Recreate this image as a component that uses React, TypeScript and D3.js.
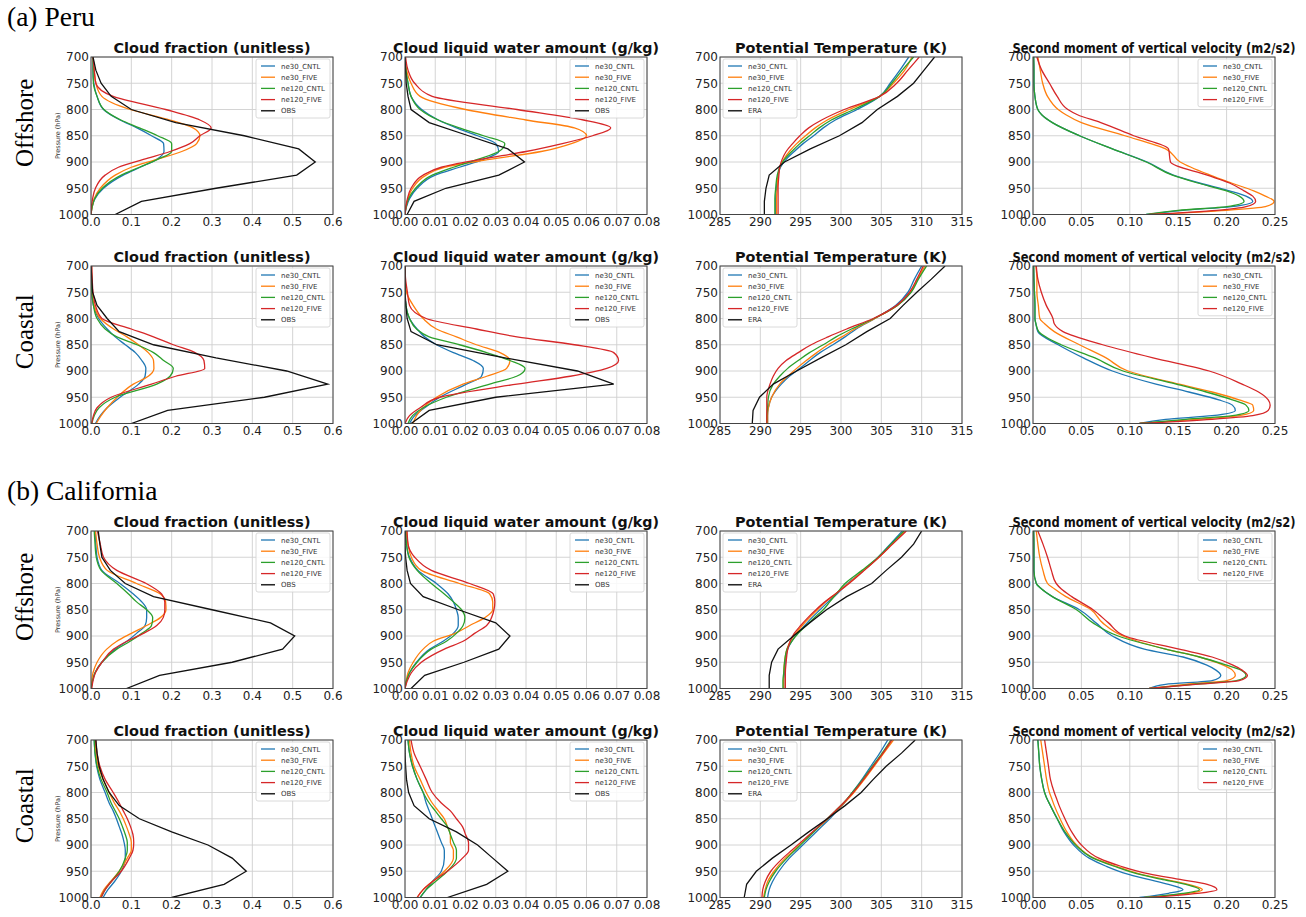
import React from "react";
import * as d3 from "d3";

// ---------- pressure levels (hPa) ----------
const LEV = [700, 725, 750, 775, 800, 820, 835, 850, 865, 880, 895, 910, 925, 950, 970, 985, 1000];
const LEV_W = [700, 725, 750, 775, 800, 810, 825, 850, 875, 900, 925, 940, 955, 965, 975, 985, 992, 1000];
const OBS_LEV = [700, 725, 750, 775, 800, 825, 850, 875, 900, 925, 950, 975, 1000];

const SERIES_NAMES = ["ne30_CNTL", "ne30_FIVE", "ne120_CNTL", "ne120_FIVE"];
const SERIES_COLORS = ["#1f77b4", "#ff7f0e", "#2ca02c", "#d62728"];

// ---------- (a) Peru, Offshore ----------  order: ne30_CNTL, ne30_FIVE, ne120_CNTL, ne120_FIVE
const PERU_OFF_CF = [
  [0.005, 0.005, 0.007, 0.015, 0.031, 0.072, 0.114, 0.15, 0.18, 0.181, 0.163, 0.122, 0.08, 0.031, 0.01, 0.003, 0],
  [0.005, 0.008, 0.012, 0.027, 0.097, 0.196, 0.253, 0.27, 0.262, 0.225, 0.163, 0.1, 0.06, 0.023, 0.008, 0.003, 0],
  [0.005, 0.005, 0.006, 0.015, 0.032, 0.074, 0.12, 0.165, 0.2, 0.2, 0.165, 0.12, 0.075, 0.028, 0.009, 0.003, 0],
  [0.005, 0.008, 0.012, 0.055, 0.185, 0.27, 0.298, 0.27, 0.245, 0.196, 0.13, 0.068, 0.035, 0.011, 0.004, 0.001, 0],
];
const PERU_OFF_CF_OBS = [0.005, 0.012, 0.025, 0.05, 0.1, 0.21, 0.38, 0.515, 0.556, 0.51, 0.31, 0.125, 0.06];

const PERU_OFF_CLW = [
  [0, 0.0003, 0.001, 0.002, 0.0055, 0.011, 0.017, 0.024, 0.03, 0.031, 0.026, 0.018, 0.01, 0.004, 0.0015, 0.0005, 0],
  [0, 0.0005, 0.002, 0.005, 0.02, 0.04, 0.056, 0.06, 0.055, 0.045, 0.028, 0.013, 0.007, 0.0025, 0.001, 0.0003, 0],
  [0, 0.0003, 0.001, 0.002, 0.005, 0.011, 0.018, 0.026, 0.033, 0.031, 0.024, 0.016, 0.009, 0.0035, 0.0012, 0.0004, 0],
  [0.0002, 0.001, 0.0032, 0.009, 0.037, 0.059, 0.068, 0.062, 0.052, 0.04, 0.025, 0.012, 0.006, 0.002, 0.0008, 0.0003, 0],
];
const PERU_OFF_CLW_OBS = [0, 0.0002, 0.0004, 0.001, 0.002, 0.008, 0.021, 0.034, 0.0395, 0.031, 0.0135, 0.003, 0.0007];

const PERU_OFF_TH = [
  [308.4, 307.3, 306.1, 304.8, 302.0, 299.3, 297.8, 296.6, 295.3, 294.2, 293.2, 292.5, 292.2, 292.0, 291.9, 291.9, 291.9],
  [308.8, 307.9, 306.5, 304.8, 301.0, 298.3, 296.8, 295.6, 294.5, 293.6, 292.9, 292.4, 292.2, 292.1, 292.0, 292.0, 292.0],
  [309.0, 307.6, 306.3, 304.8, 301.6, 298.8, 297.3, 296.1, 294.9, 293.9, 293.0, 292.4, 292.1, 291.9, 291.8, 291.8, 291.8],
  [309.7, 308.3, 306.9, 304.8, 300.4, 297.6, 296.0, 294.9, 294.0, 293.2, 292.7, 292.4, 292.3, 292.2, 292.2, 292.2, 292.2],
];
const PERU_OFF_TH_ERA = [311.6, 310.3, 309.0, 307.0, 304.5, 302.6, 299.8, 296.2, 293.0, 291.1, 290.7, 290.5, 290.5];

const PERU_OFF_W2 = [
  [0.0007, 0.001, 0.001, 0.002, 0.005, 0.009, 0.02, 0.048, 0.082, 0.118, 0.145, 0.172, 0.203, 0.22, 0.227, 0.205, 0.155, 0.117],
  [0.005, 0.0075, 0.01, 0.015, 0.026, 0.034, 0.05, 0.095, 0.137, 0.152, 0.183, 0.205, 0.228, 0.24, 0.249, 0.24, 0.2, 0.12],
  [0.0007, 0.001, 0.001, 0.002, 0.005, 0.009, 0.02, 0.048, 0.082, 0.117, 0.144, 0.17, 0.2, 0.213, 0.218, 0.2, 0.15, 0.117],
  [0.004, 0.009, 0.017, 0.025, 0.036, 0.046, 0.07, 0.104, 0.14, 0.142, 0.18, 0.203, 0.218, 0.227, 0.23, 0.22, 0.19, 0.12],
];

// ---------- (a) Peru, Coastal ----------
const PERU_CST_CF = [
  [0.001, 0.001, 0.002, 0.006, 0.019, 0.04, 0.06, 0.085, 0.11, 0.126, 0.136, 0.134, 0.118, 0.072, 0.04, 0.023, 0.011],
  [0.001, 0.002, 0.003, 0.008, 0.023, 0.056, 0.089, 0.118, 0.142, 0.155, 0.156, 0.142, 0.105, 0.065, 0.04, 0.025, 0.013],
  [0.001, 0.001, 0.002, 0.006, 0.015, 0.035, 0.064, 0.114, 0.155, 0.18, 0.204, 0.196, 0.163, 0.06, 0.02, 0.008, 0.002],
  [0.002, 0.003, 0.005, 0.011, 0.027, 0.1, 0.155, 0.204, 0.258, 0.28, 0.282, 0.21, 0.15, 0.05, 0.015, 0.006, 0.002],
];
const PERU_CST_CF_OBS = [0, 0.002, 0.004, 0.015, 0.04, 0.07, 0.155, 0.31, 0.485, 0.587, 0.43, 0.19, 0.1];

const PERU_CST_CLW = [
  [0, 0, 0, 0.0003, 0.0015, 0.004, 0.0065, 0.0104, 0.016, 0.0225, 0.0259, 0.0253, 0.0203, 0.0115, 0.0065, 0.0032, 0.0015],
  [0, 0, 0.0005, 0.0027, 0.006, 0.0104, 0.017, 0.0236, 0.0314, 0.0347, 0.0336, 0.027, 0.0192, 0.0104, 0.006, 0.0038, 0.0027],
  [0, 0, 0, 0.0003, 0.0015, 0.0038, 0.008, 0.018, 0.027, 0.0347, 0.0397, 0.0369, 0.028, 0.0137, 0.006, 0.0025, 0.001],
  [0, 0.0002, 0.0008, 0.0015, 0.007, 0.0236, 0.037, 0.056, 0.069, 0.0706, 0.0667, 0.0546, 0.037, 0.0115, 0.005, 0.0015, 0],
];
const PERU_CST_CLW_OBS = [0, 0, 0, 0.0003, 0.0007, 0.002, 0.0105, 0.033, 0.057, 0.069, 0.03, 0.008, 0.002];

const PERU_CST_TH = [
  [310.0, 309.1, 308.3, 306.8, 304.2, 301.9, 300.5, 299.0, 297.4, 296.1, 294.9, 293.6, 292.6, 291.4, 291.0, 290.9, 290.9],
  [310.4, 309.5, 308.6, 307.0, 304.2, 301.7, 300.1, 298.4, 297.0, 295.7, 294.5, 293.4, 292.4, 291.4, 291.0, 290.9, 290.9],
  [310.6, 309.6, 308.7, 307.0, 304.1, 301.3, 299.4, 297.8, 296.1, 294.7, 293.4, 292.4, 291.6, 291.0, 290.9, 290.8, 290.8],
  [310.2, 309.4, 308.5, 306.9, 304.0, 300.7, 298.4, 296.3, 294.7, 293.2, 292.2, 291.6, 291.2, 290.8, 290.8, 290.8, 290.8],
];
const PERU_CST_TH_ERA = [312.9, 311.2, 309.4, 307.7, 306.1, 303.2, 300.6, 297.5, 294.5, 291.6, 289.9, 289.1, 289.0];

const PERU_CST_W2 = [
  [0.0007, 0.001, 0.0015, 0.002, 0.002, 0.003, 0.005, 0.026, 0.052, 0.082, 0.127, 0.161, 0.192, 0.206, 0.209, 0.185, 0.137, 0.11],
  [0.003, 0.004, 0.004, 0.0055, 0.007, 0.012, 0.022, 0.048, 0.0755, 0.098, 0.151, 0.185, 0.213, 0.227, 0.228, 0.213, 0.168, 0.11],
  [0.0007, 0.001, 0.0015, 0.002, 0.002, 0.003, 0.006, 0.029, 0.064, 0.093, 0.148, 0.179, 0.206, 0.22, 0.223, 0.206, 0.158, 0.11],
  [0.0034, 0.005, 0.0086, 0.0137, 0.0206, 0.022, 0.031, 0.072, 0.124, 0.182, 0.216, 0.233, 0.243, 0.245, 0.243, 0.227, 0.185, 0.11],
];

// ---------- (b) California, Offshore ----------
const CAL_OFF_CF = [
  [0.011, 0.012, 0.015, 0.027, 0.072, 0.105, 0.126, 0.138, 0.138, 0.134, 0.113, 0.089, 0.06, 0.027, 0.01, 0.004, 0],
  [0.011, 0.015, 0.021, 0.04, 0.113, 0.172, 0.185, 0.186, 0.172, 0.138, 0.1, 0.064, 0.039, 0.015, 0.005, 0.002, 0],
  [0.008, 0.01, 0.013, 0.025, 0.064, 0.093, 0.113, 0.138, 0.153, 0.15, 0.126, 0.097, 0.064, 0.027, 0.01, 0.004, 0],
  [0.016, 0.023, 0.031, 0.064, 0.137, 0.175, 0.183, 0.183, 0.179, 0.163, 0.13, 0.089, 0.056, 0.027, 0.011, 0.005, 0.002],
];
const CAL_OFF_CF_OBS = [0.018, 0.022, 0.027, 0.048, 0.085, 0.155, 0.3, 0.445, 0.505, 0.475, 0.35, 0.17, 0.088];

const CAL_OFF_CLW = [
  [0.0002, 0.0005, 0.0015, 0.0043, 0.0104, 0.0143, 0.016, 0.017, 0.0176, 0.0176, 0.016, 0.0126, 0.0082, 0.0038, 0.0015, 0.0005, 0],
  [0.0004, 0.001, 0.0021, 0.0054, 0.018, 0.028, 0.029, 0.029, 0.0264, 0.0214, 0.0165, 0.0093, 0.006, 0.0027, 0.001, 0.0004, 0],
  [0.0002, 0.0005, 0.0013, 0.004, 0.0087, 0.013, 0.016, 0.0187, 0.0198, 0.0192, 0.017, 0.0137, 0.0087, 0.004, 0.0015, 0.0005, 0],
  [0.0007, 0.001, 0.0032, 0.0087, 0.0214, 0.0292, 0.0297, 0.0294, 0.0286, 0.027, 0.023, 0.0192, 0.013, 0.0054, 0.0021, 0.0008, 0],
];
const CAL_OFF_CLW_OBS = [0, 0, 0.0002, 0.0007, 0.0018, 0.006, 0.0177, 0.03, 0.0347, 0.031, 0.0195, 0.0065, 0.002];

const CAL_OFF_TH = [
  [307.6, 306.1, 304.6, 302.8, 300.8, 299.5, 298.4, 297.4, 296.4, 295.5, 294.6, 293.9, 293.4, 293.1, 293.0, 292.9, 292.9],
  [307.9, 306.3, 304.7, 302.8, 300.9, 299.3, 298.1, 297.1, 296.1, 295.2, 294.4, 293.7, 293.3, 293.0, 292.9, 292.9, 292.9],
  [307.8, 306.2, 304.6, 302.6, 300.5, 299.4, 298.6, 297.8, 296.7, 295.7, 294.7, 293.9, 293.3, 293.0, 292.9, 292.8, 292.8],
  [308.1, 306.4, 304.7, 302.9, 301.0, 299.3, 298.0, 296.9, 295.9, 295.0, 294.2, 293.7, 293.4, 293.2, 293.1, 293.1, 293.1],
];
const CAL_OFF_TH_ERA = [310.0, 309.0, 307.5, 305.6, 303.8, 300.7, 298.2, 296.1, 294.1, 292.2, 291.4, 291.1, 291.1];

const CAL_OFF_W2 = [
  [0.0007, 0.001, 0.001, 0.001, 0.0034, 0.0086, 0.02, 0.048, 0.065, 0.082, 0.115, 0.155, 0.179, 0.189, 0.194, 0.185, 0.137, 0.12],
  [0.0034, 0.005, 0.007, 0.0103, 0.015, 0.022, 0.034, 0.06, 0.072, 0.093, 0.137, 0.172, 0.196, 0.206, 0.209, 0.2, 0.158, 0.12],
  [0.0007, 0.001, 0.001, 0.001, 0.0034, 0.0086, 0.02, 0.045, 0.062, 0.088, 0.137, 0.172, 0.199, 0.215, 0.22, 0.21, 0.165, 0.12],
  [0.005, 0.0103, 0.015, 0.019, 0.024, 0.029, 0.04, 0.062, 0.078, 0.095, 0.151, 0.185, 0.206, 0.216, 0.2215, 0.213, 0.168, 0.12],
];

// ---------- (b) California, Coastal ----------
const CAL_CST_CF = [
  [0.008, 0.01, 0.014, 0.022, 0.035, 0.045, 0.055, 0.063, 0.07, 0.077, 0.082, 0.085, 0.085, 0.075, 0.058, 0.042, 0.03],
  [0.01, 0.012, 0.018, 0.03, 0.045, 0.058, 0.07, 0.08, 0.088, 0.095, 0.1, 0.1, 0.09, 0.07, 0.048, 0.032, 0.022],
  [0.008, 0.01, 0.015, 0.025, 0.04, 0.05, 0.06, 0.07, 0.078, 0.085, 0.09, 0.09, 0.085, 0.07, 0.05, 0.035, 0.025],
  [0.012, 0.015, 0.022, 0.035, 0.055, 0.07, 0.08, 0.09, 0.098, 0.104, 0.106, 0.104, 0.095, 0.075, 0.05, 0.035, 0.025],
];
const CAL_CST_CF_OBS = [0.012, 0.015, 0.02, 0.03, 0.045, 0.07, 0.12, 0.2, 0.29, 0.35, 0.385, 0.33, 0.2];

const CAL_CST_CLW = [
  [0.001, 0.0015, 0.0025, 0.004, 0.006, 0.007, 0.008, 0.009, 0.01, 0.011, 0.012, 0.013, 0.013, 0.012, 0.009, 0.007, 0.005],
  [0.0015, 0.002, 0.003, 0.005, 0.007, 0.009, 0.011, 0.013, 0.014, 0.015, 0.015, 0.016, 0.016, 0.013, 0.009, 0.006, 0.004],
  [0.001, 0.0015, 0.0025, 0.004, 0.006, 0.008, 0.01, 0.012, 0.014, 0.015, 0.016, 0.017, 0.017, 0.014, 0.01, 0.007, 0.005],
  [0.002, 0.003, 0.005, 0.007, 0.009, 0.012, 0.015, 0.017, 0.019, 0.02, 0.021, 0.021, 0.019, 0.014, 0.009, 0.006, 0.004],
];
const CAL_CST_CLW_OBS = [0, 0, 0.0002, 0.0005, 0.0012, 0.003, 0.008, 0.017, 0.024, 0.029, 0.034, 0.027, 0.014];

const CAL_CST_TH = [
  [305.8, 304.8, 303.7, 302.6, 301.4, 300.4, 299.5, 298.6, 297.6, 296.6, 295.6, 294.6, 293.6, 292.3, 291.5, 291.1, 290.9],
  [306.5, 305.3, 304.1, 302.9, 301.6, 300.4, 299.4, 298.4, 297.3, 296.2, 295.2, 294.2, 293.1, 291.7, 290.9, 290.6, 290.4],
  [306.2, 305.1, 303.9, 302.7, 301.4, 300.3, 299.3, 298.3, 297.3, 296.3, 295.3, 294.3, 293.3, 291.9, 291.1, 290.7, 290.5],
  [306.3, 305.2, 304.0, 302.8, 301.5, 300.3, 299.3, 298.3, 297.2, 296.1, 295.0, 293.9, 292.8, 291.3, 290.6, 290.3, 290.2],
];
const CAL_CST_TH_ERA = [309.2, 307.5, 305.6, 304.0, 302.5, 300.5, 298.3, 296.0, 293.8, 291.5, 289.5, 288.3, 288.0];

const CAL_CST_W2 = [
  [0.005, 0.006, 0.007, 0.009, 0.012, 0.014, 0.018, 0.025, 0.032, 0.042, 0.058, 0.075, 0.097, 0.118, 0.14, 0.155, 0.14, 0.11],
  [0.008, 0.01, 0.012, 0.014, 0.017, 0.019, 0.022, 0.028, 0.035, 0.045, 0.063, 0.085, 0.11, 0.135, 0.16, 0.175, 0.16, 0.115],
  [0.005, 0.006, 0.007, 0.009, 0.012, 0.014, 0.018, 0.025, 0.033, 0.044, 0.062, 0.083, 0.108, 0.132, 0.158, 0.172, 0.155, 0.115],
  [0.012, 0.014, 0.016, 0.018, 0.022, 0.024, 0.027, 0.033, 0.04, 0.05, 0.068, 0.09, 0.12, 0.15, 0.18, 0.19, 0.17, 0.12],
];

// ---------- axis definitions ----------
const KINDS: Record<string, any> = {
  cf: { title: "Cloud fraction (unitless)", titleW: 197, domain: [0, 0.6], nt: 6, fmt: d3.format(".1f"), obsLabel: "OBS", legendLeft: false },
  clw: { title: "Cloud liquid water amount (g/kg)", titleW: 266, domain: [0, 0.08], nt: 8, fmt: d3.format(".2f"), obsLabel: "OBS", legendLeft: false },
  th: { title: "Potential Temperature (K)", titleW: 212, domain: [285, 315], nt: 6, fmt: d3.format("d"), obsLabel: "ERA", legendLeft: true },
  w2: { title: "Second moment of vertical velocity (m2/s2)", titleW: 283, domain: [0, 0.25], nt: 5, fmt: d3.format(".2f"), obsLabel: null, legendLeft: false },
};

const PANELS = [
  { row: 0, col: 0, kind: "cf", models: PERU_OFF_CF, obs: PERU_OFF_CF_OBS },
  { row: 0, col: 1, kind: "clw", models: PERU_OFF_CLW, obs: PERU_OFF_CLW_OBS },
  { row: 0, col: 2, kind: "th", models: PERU_OFF_TH, obs: PERU_OFF_TH_ERA },
  { row: 0, col: 3, kind: "w2", models: PERU_OFF_W2, obs: null },
  { row: 1, col: 0, kind: "cf", models: PERU_CST_CF, obs: PERU_CST_CF_OBS },
  { row: 1, col: 1, kind: "clw", models: PERU_CST_CLW, obs: PERU_CST_CLW_OBS },
  { row: 1, col: 2, kind: "th", models: PERU_CST_TH, obs: PERU_CST_TH_ERA },
  { row: 1, col: 3, kind: "w2", models: PERU_CST_W2, obs: null },
  { row: 2, col: 0, kind: "cf", models: CAL_OFF_CF, obs: CAL_OFF_CF_OBS },
  { row: 2, col: 1, kind: "clw", models: CAL_OFF_CLW, obs: CAL_OFF_CLW_OBS },
  { row: 2, col: 2, kind: "th", models: CAL_OFF_TH, obs: CAL_OFF_TH_ERA },
  { row: 2, col: 3, kind: "w2", models: CAL_OFF_W2, obs: null },
  { row: 3, col: 0, kind: "cf", models: CAL_CST_CF, obs: CAL_CST_CF_OBS },
  { row: 3, col: 1, kind: "clw", models: CAL_CST_CLW, obs: CAL_CST_CLW_OBS },
  { row: 3, col: 2, kind: "th", models: CAL_CST_TH, obs: CAL_CST_TH_ERA },
  { row: 3, col: 3, kind: "w2", models: CAL_CST_W2, obs: null },
];

const ROW_LABELS = ["Offshore", "Coastal", "Offshore", "Coastal"];
const SECTION_LABELS = [{ text: "(a) Peru", row: 0 }, { text: "(b) California", row: 2 }];

// ---------- layout ----------
const COL_X = [91, 405, 720, 1033];
const ROW_Y = [57, 266, 531, 740];
const PW = 242;
const PH = 157.5;
const SANS = "'DejaVu Sans', sans-serif";
const SERIF = "'Liberation Serif', 'Times New Roman', serif";

function Panel({ p, idx }: { p: any; idx: number }) {
  const k = KINDS[p.kind];
  const x0 = COL_X[p.col];
  const y0 = ROW_Y[p.row];
  const xs = d3.scaleLinear().domain(k.domain).range([x0, x0 + PW]);
  const ys = d3.scaleLinear().domain([700, 1000]).range([y0, y0 + PH]);
  const lev = p.kind === "w2" ? LEV_W : LEV;
  const modelLine = d3
    .line<number>()
    .x((d) => xs(d))
    .y((_d, i) => ys(lev[i]))
    .curve(d3.curveMonotoneY);
  const obsLine = d3
    .line<number>()
    .x((d) => xs(d))
    .y((_d, i) => ys(OBS_LEV[i]));
  const xt = xs.ticks(k.nt);
  const yt = ys.ticks(6);
  const clipId = `clip${idx}`;

  const entries = SERIES_NAMES.map((n, i) => ({ name: n, color: SERIES_COLORS[i] }));
  if (k.obsLabel) entries.push({ name: k.obsLabel, color: "#000" });
  const lw = 74;
  const lh = entries.length * 11.2 + 3;
  const lx = k.legendLeft ? x0 + 3 : x0 + PW - 3 - lw;
  const ly = y0 + 2;

  return (
    <g>
      <defs>
        <clipPath id={clipId}>
          <rect x={x0} y={y0} width={PW} height={PH} />
        </clipPath>
      </defs>
      <rect x={x0} y={y0} width={PW} height={PH} fill="#fff" />
      {xt.map((t) => (
        <line key={"gx" + t} x1={xs(t)} x2={xs(t)} y1={y0} y2={y0 + PH} stroke="#cfcfcf" strokeWidth={0.9} />
      ))}
      {yt.map((t) => (
        <line key={"gy" + t} x1={x0} x2={x0 + PW} y1={ys(t)} y2={ys(t)} stroke="#cfcfcf" strokeWidth={0.9} />
      ))}
      <g clipPath={`url(#${clipId})`}>
        {p.models.map((s: number[], i: number) => (
          <path key={"m" + i} d={modelLine(s) || ""} fill="none" stroke={SERIES_COLORS[i]} strokeWidth={1.3} />
        ))}
        {p.obs && <path d={obsLine(p.obs) || ""} fill="none" stroke="#111" strokeWidth={1.3} />}
      </g>
      <rect x={x0} y={y0} width={PW} height={PH} fill="none" stroke="#444" strokeWidth={1} />
      {xt.map((t) => (
        <text key={"tx" + t} x={xs(t)} y={y0 + PH + 11} fontSize={12} fontFamily={SANS} fill="#222" textAnchor="middle">
          {k.fmt(t)}
        </text>
      ))}
      {yt.map((t) => (
        <text key={"ty" + t} x={x0 - 2} y={ys(t) + 4.3} fontSize={12} fontFamily={SANS} fill="#222" textAnchor="end">
          {t}
        </text>
      ))}
      <text
        x={x0 + PW / 2}
        y={y0 - 4}
        fontSize={14}
        fontWeight="bold"
        fontFamily={SANS}
        fill="#111"
        textAnchor="middle"
        textLength={k.titleW}
        lengthAdjust="spacingAndGlyphs"
      >
        {k.title}
      </text>
      {p.col === 0 && (
        <text
          transform={`translate(${x0 - 31},${y0 + PH / 2}) rotate(-90)`}
          fontSize={6.5}
          fontFamily={SANS}
          fill="#333"
          textAnchor="middle"
        >
          Pressure (hPa)
        </text>
      )}
      <g>
        <rect x={lx} y={ly} width={lw} height={lh} rx={2} fill="#fff" fillOpacity={0.85} stroke="#d0d0d0" strokeWidth={0.8} />
        {entries.map((e, i) => {
          const ey = ly + 7 + i * 11.2;
          return (
            <g key={e.name}>
              <line x1={lx + 5} x2={lx + 19} y1={ey} y2={ey} stroke={e.color} strokeWidth={1.3} />
              <text x={lx + 25} y={ey + 2.5} fontSize={7} fontFamily={SANS} fill="#333">
                {e.name}
              </text>
            </g>
          );
        })}
      </g>
    </g>
  );
}

export default function App() {
  return (
    <svg
      width={1306}
      height={917}
      viewBox="0 0 1306 917"
      style={{ position: "absolute", left: 0, top: 0, background: "#fff" }}
    >
      <rect x={0} y={0} width={1306} height={917} fill="#fff" />
      {SECTION_LABELS.map((s) => (
        <text key={s.text} x={7} y={ROW_Y[s.row] - 31} fontSize={27.5} fontFamily={SERIF} fill="#000">
          {s.text}
        </text>
      ))}
      {ROW_LABELS.map((r, i) => (
        <text
          key={"rl" + i}
          transform={`translate(33,${ROW_Y[i] + PH / 2 - 13}) rotate(-90)`}
          fontSize={25}
          fontFamily={SERIF}
          fill="#000"
          textAnchor="middle"
        >
          {r}
        </text>
      ))}
      {PANELS.map((p, i) => (
        <Panel key={i} p={p} idx={i} />
      ))}
    </svg>
  );
}
